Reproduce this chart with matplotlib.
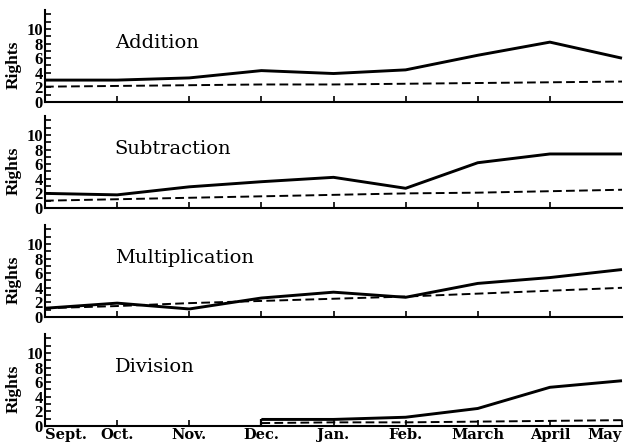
import numpy as np
import matplotlib
matplotlib.use("Agg")
import matplotlib.pyplot as plt

months = ["Sept.", "Oct.", "Nov.", "Dec.", "Jan.", "Feb.", "March", "April", "May"]
operations = ["Addition", "Subtraction", "Multiplication", "Division"]

# solid line: class scores; dashed line: standard
addition_class = [3.0, 3.0, 3.3, 4.3, 3.9, 4.4, 6.4, 8.2, 6.0]
addition_std = [2.1, 2.2, 2.3, 2.4, 2.4, 2.5, 2.6, 2.7, 2.8]
subtraction_class = [2.0, 1.8, 2.9, 3.6, 4.2, 2.7, 6.2, 7.4, 7.4]
subtraction_std = [1.0, 1.2, 1.4, 1.6, 1.8, 2.0, 2.1, 2.3, 2.5]
multiplication_class = [1.2, 1.9, 1.1, 2.6, 3.4, 2.7, 4.6, 5.4, 6.5]
multiplication_std = [1.2, 1.5, 1.9, 2.2, 2.5, 2.8, 3.2, 3.6, 4.0]
division_class = [np.nan, np.nan, np.nan, 0.9, 0.9, 1.2, 2.4, 5.3, 6.2]
division_std = [np.nan, np.nan, np.nan, 0.4, 0.5, 0.5, 0.6, 0.7, 0.8]

class_series = [addition_class, subtraction_class, multiplication_class, division_class]
std_series = [addition_std, subtraction_std, multiplication_std, division_std]

y_ticks = list(range(0, 13))
y_labels = ["0", "", "2", "", "4", "", "6", "", "8", "", "10", "", ""]

W, H = 630, 444
fig = plt.figure(figsize=(W / 100, H / 100), dpi=100)

left_px, right_px = 45, 622
baselines_px = [102, 208, 317, 426]
height_px = 92

bold_serif = {"family": "Liberation Serif", "weight": "bold"}
x = np.arange(len(months))

for i, (name, cls, std) in enumerate(zip(operations, class_series, std_series)):
    ax = fig.add_axes([left_px / W, 1 - baselines_px[i] / H,
                       (right_px - left_px) / W, height_px / H])
    cls = np.array(cls, dtype=float)
    std = np.array(std, dtype=float)

    ax.plot(x, cls, color="black", lw=2.1, solid_joinstyle="round",
            solid_capstyle="butt", clip_on=False)
    ax.plot(x, std, color="black", lw=1.4, ls=(0, (4.5, 2.2)), clip_on=False)

    # closing edge where a series begins partway through the year
    first = int(np.argmax(~np.isnan(cls)))
    if first > 0:
        ax.vlines(x[first], 0, cls[first], color="black", lw=1.6)

    ax.set_xlim(0, 8)
    ax.set_ylim(0, 12.6)

    for side in ("top", "right"):
        ax.spines[side].set_visible(False)
    for side in ("left", "bottom"):
        ax.spines[side].set_linewidth(1.5)

    ax.set_yticks(y_ticks)
    ax.set_yticklabels(y_labels, fontdict=bold_serif, fontsize=12)
    ax.tick_params(axis="y", direction="in", length=4, width=1.2, pad=1.5)

    ax.set_xticks(x[1:8])
    ax.tick_params(axis="x", direction="in", length=4, width=1.2)
    if i < 3:
        ax.set_xticklabels([])
    else:
        ax.set_xticks(x)
        ax.set_xticklabels(months, family="DejaVu Serif", weight="bold",
                           fontsize=10.5)
        ax.tick_params(axis="x", pad=1.5)
        labels = ax.get_xticklabels()
        labels[0].set_ha("left")
        labels[-1].set_ha("right")

    ax.set_ylabel("Rights", fontdict=bold_serif, fontsize=12.5)
    ax.yaxis.set_label_coords(-0.041, 0.40)

    ax.text(0.121, 0.645, name, transform=ax.transAxes, family="DejaVu Serif",
            fontsize=14, ha="left", va="center")

fig.savefig("out.png", dpi=100)
